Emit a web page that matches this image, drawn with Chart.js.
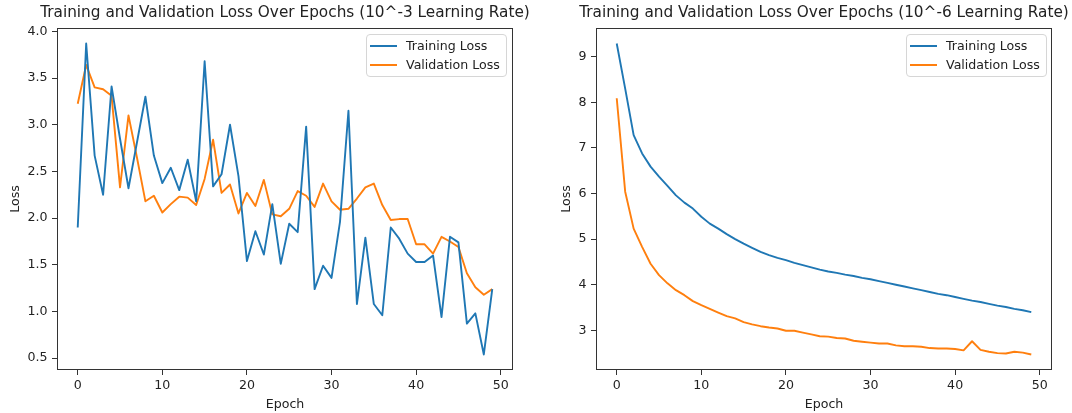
<!DOCTYPE html>
<html><head><meta charset="utf-8">
<script src="https://cdn.jsdelivr.net/npm/chart.js@4.4.1/dist/chart.umd.min.js"></script>
<style>
html,body{margin:0;padding:0;background:#fff;width:1072px;height:413px;overflow:hidden;position:relative;font-family:"DejaVu Sans",sans-serif;}
.cw{position:absolute;top:0;height:413px;}
.legend{position:absolute;box-sizing:border-box;border:1px solid #d6d6d6;border-radius:4px;background:rgba(255,255,255,0.8);}
.row{position:absolute;left:0;right:0;height:16px;}
.swatch{position:absolute;left:3px;width:27px;height:2px;top:7px;}
.lab{position:absolute;left:39px;top:0;line-height:16px;font-size:12.6px;color:#222;white-space:nowrap;}
</style></head>
<body>
<div class="cw" style="left:0;width:570px"><canvas id="c1" width="570" height="413"></canvas></div>
<div class="cw" style="left:555px;width:538px"><canvas id="c2" width="538" height="413"></canvas></div>
<div class="legend" id="lg1" style="left:366px;top:34px;width:141px;height:43px"></div>
<div class="legend" id="lg2" style="left:906px;top:34px;width:141px;height:43px"></div>
<script>
const epochs = [0,1,2,3,4,5,6,7,8,9,10,11,12,13,14,15,16,17,18,19,20,21,22,23,24,25,26,27,28,29,30,31,32,33,34,35,36,37,38,39,40,41,42,43,44,45,46,47,48,49];

const trainLoss3 = [1.90,3.87,2.67,2.25,3.41,2.85,2.32,2.81,3.30,2.67,2.375,2.54,2.30,2.625,2.18,3.68,2.34,2.47,3.00,2.45,1.54,1.86,1.61,2.15,1.51,1.94,1.85,2.98,1.24,1.49,1.36,1.96,3.15,1.08,1.79,1.08,0.96,1.90,1.78,1.62,1.53,1.53,1.60,0.94,1.80,1.74,0.87,0.98,0.54,1.24];
const valLoss3 = [3.225,3.64,3.40,3.38,3.31,2.33,3.10,2.65,2.18,2.24,2.06,2.15,2.23,2.22,2.14,2.42,2.84,2.27,2.36,2.05,2.27,2.13,2.41,2.04,2.02,2.10,2.29,2.24,2.12,2.37,2.18,2.09,2.10,2.21,2.33,2.37,2.14,1.98,1.99,1.99,1.72,1.72,1.62,1.80,1.75,1.69,1.41,1.26,1.18,1.24];

const trainLoss6 = [9.29,8.30,7.28,6.88,6.59,6.37,6.17,5.96,5.80,5.67,5.49,5.34,5.23,5.11,5.00,4.90,4.81,4.72,4.65,4.59,4.54,4.48,4.43,4.38,4.33,4.29,4.26,4.22,4.19,4.15,4.12,4.08,4.04,4.00,3.96,3.92,3.88,3.84,3.80,3.77,3.73,3.69,3.65,3.62,3.58,3.54,3.51,3.47,3.44,3.40];
const valLoss6 = [8.09,6.04,5.23,4.83,4.46,4.21,4.03,3.88,3.77,3.64,3.55,3.47,3.39,3.31,3.26,3.18,3.13,3.09,3.06,3.04,2.99,2.99,2.95,2.91,2.87,2.86,2.83,2.82,2.77,2.75,2.73,2.71,2.71,2.67,2.65,2.65,2.64,2.61,2.60,2.60,2.59,2.56,2.76,2.57,2.53,2.50,2.49,2.53,2.51,2.47];

const seriesNames = ['Training Loss','Validation Loss'];
const seriesColors = ['#1f77b4','#ff7f0e'];
const titles = ['Training and Validation Loss Over Epochs (10^-3 Learning Rate)','Training and Validation Loss Over Epochs (10^-6 Learning Rate)'];
const xTickValues = [0,10,20,30,40,50];
const xTickLabels = ['0','10','20','30','40','50'];
const yTickValues3 = [0.5,1.0,1.5,2.0,2.5,3.0,3.5,4.0];
const yTickLabels3 = ['0.5','1.0','1.5','2.0','2.5','3.0','3.5','4.0'];
const yTickValues6 = [3,4,5,6,7,8,9];
const yTickLabels6 = ['3','4','5','6','7','8','9'];
const xLabel = 'Epoch';
const yLabel = 'Loss';

Chart.defaults.font.family = '"DejaVu Sans", sans-serif';
Chart.defaults.font.size = 12.6;
Chart.defaults.color = '#222';

const frame = {
  id: 'frame',
  afterDatasetsDraw(chart) {
    const {ctx, chartArea: a} = chart;
    ctx.save();
    ctx.strokeStyle = '#333';
    ctx.lineWidth = 1;
    ctx.strokeRect(Math.round(a.left) + 0.5, Math.round(a.top) + 0.5, Math.round(a.right - a.left) - 1, Math.round(a.bottom - a.top) - 1);
    ctx.restore();
  }
};

function range(arrs) {
  let lo = Infinity, hi = -Infinity;
  arrs.forEach(a => a.forEach(v => { lo = Math.min(lo, v); hi = Math.max(hi, v); }));
  const m = (hi - lo) * 0.05;
  return [lo - m, hi + m];
}

function makeChart(id, title, train, val, yVals, yLabs, sideW, yTitlePad) {
  const [ymin, ymax] = range([train, val]);
  const xr = range([epochs]);
  const datasets = [train, val].map((arr, i) => ({
    label: seriesNames[i],
    data: epochs.map((e, j) => ({x: e, y: arr[j]})),
    borderColor: seriesColors[i],
    backgroundColor: seriesColors[i],
    borderWidth: 1.9,
    pointRadius: 0,
    tension: 0,
    borderJoinStyle: 'round',
    fill: false
  }));
  return new Chart(document.getElementById(id), {
    type: 'line',
    data: {datasets},
    plugins: [frame],
    options: {
      responsive: false,
      animation: false,
      events: [],
      layout: {padding: 0, autoPadding: false},
      plugins: {
        legend: {display: false},
        tooltip: {enabled: false},
        title: {display: true, text: title, color: '#222', font: {size: 15.3, weight: 'normal', lineHeight: 1.15}, padding: {top: 4.5, bottom: 5.9}}
      },
      scales: {
        x: {
          type: 'linear', min: xr[0], max: xr[1],
          grid: {display: true, drawOnChartArea: false, drawTicks: true, tickLength: 5, tickColor: '#333'},
          border: {display: false},
          ticks: {padding: 3, maxRotation: 0, autoSkip: false, includeBounds: false, callback: (v, i) => xTickLabels[i]},
          afterBuildTicks: s => { s.ticks = xTickValues.map(v => ({value: v})); },
          title: {display: true, text: xLabel, padding: {top: 0, bottom: 1}},
          afterFit: s => { s.height = 43; }
        },
        y: {
          type: 'linear', position: 'left', min: ymin, max: ymax,
          grid: {display: true, drawOnChartArea: false, drawTicks: true, tickLength: 5, tickColor: '#333'},
          border: {display: false},
          ticks: {padding: 4.5, autoSkip: false, includeBounds: false, callback: (v, i) => yLabs[i]},
          afterBuildTicks: s => { s.ticks = yVals.map(v => ({value: v})); },
          title: {display: true, text: yLabel, padding: {top: yTitlePad, bottom: 0}},
          afterFit: s => { s.width = sideW; }
        },
        y2: {
          type: 'linear', position: 'right', display: true,
          grid: {display: false}, border: {display: false}, ticks: {display: false},
          afterFit: s => { s.width = sideW; }
        }
      }
    }
  });
}

function buildLegend(chart, id) {
  const box = document.getElementById(id);
  chart.data.datasets.forEach((ds, i) => {
    const row = document.createElement('div');
    row.className = 'row';
    row.style.top = (3 + i * 19) + 'px';
    const sw = document.createElement('div');
    sw.className = 'swatch';
    sw.style.background = ds.borderColor;
    const lab = document.createElement('div');
    lab.className = 'lab';
    lab.textContent = ds.label;
    row.appendChild(sw); row.appendChild(lab);
    box.appendChild(row);
  });
}

const ch1 = makeChart('c1', titles[0], trainLoss3, valLoss3, yTickValues3, yTickLabels3, 57, 8);
const ch2 = makeChart('c2', titles[1], trainLoss6, valLoss6, yTickValues6, yTickLabels6, 41, 4.5);
buildLegend(ch1, 'lg1');
buildLegend(ch2, 'lg2');
</script>
</body></html>
